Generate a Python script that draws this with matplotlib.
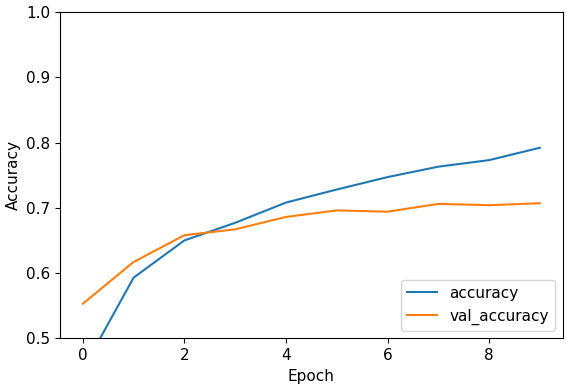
import numpy as np
import matplotlib
matplotlib.use('Agg')
import matplotlib.pyplot as plt

# training history
epochs = [0, 1, 2, 3, 4, 5, 6, 7, 8, 9]
accuracy = [0.452, 0.593, 0.650, 0.677, 0.708, 0.728, 0.747, 0.763, 0.773, 0.792]
val_accuracy = [0.553, 0.617, 0.658, 0.667, 0.686, 0.696, 0.694, 0.706, 0.704, 0.707]

plt.rcParams['font.size'] = 11

fig = plt.figure(figsize=(5.67, 3.87), dpi=100)
ax = fig.add_axes([0.1058, 0.1258, 0.8866, 0.8432])

ax.plot(epochs, accuracy, label='accuracy')
ax.plot(epochs, val_accuracy, label='val_accuracy')
ax.set_xlabel('Epoch')
ax.set_ylabel('Accuracy')
ax.set_ylim([0.5, 1])
ax.legend(loc='lower right')

fig.savefig('out.png', dpi=100)
